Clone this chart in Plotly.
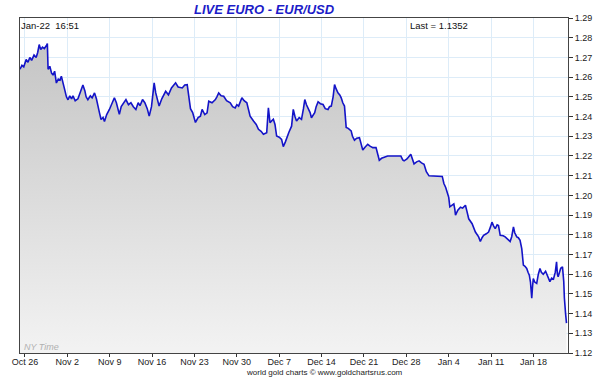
import datetime as dt
import plotly.graph_objects as go

# ---- data ----
start_date = dt.datetime(2020, 10, 26)
days = [
    -0.82, -0.5, -0.2, 0.2, 0.5, 0.8, 1.1, 1.5, 1.85, 2.1, 2.35, 2.6, 2.9, 3.2, 3.55, 3.7,
    3.82, 4.1, 4.4, 4.64, 4.9, 5.19, 5.5, 5.8, 6.01, 6.3, 6.57, 6.85, 7.11, 7.4, 7.7, 7.93,
    8.3, 8.75, 9.1, 9.57, 9.9, 10.1, 10.39, 10.8, 11.1, 11.49, 11.8, 12.03, 12.3, 12.57,
    12.9, 13.13, 13.5, 13.95, 14.3, 14.77, 15.1, 15.3, 15.59, 15.9, 16.3, 16.68, 17.1,
    17.5, 17.9, 18.32, 18.7, 19.0, 19.42, 19.8, 20.2, 20.52, 20.9, 21.1, 21.34, 21.6,
    21.9, 22.16, 22.6, 23.24, 23.7, 24.2, 24.88, 25.3, 25.98, 26.4, 26.8, 27.0, 27.34,
    27.7, 28.16, 28.6, 28.98, 29.26, 29.7, 30.08, 30.36, 30.9, 31.45, 31.7, 32.0, 32.4,
    32.83, 33.3, 33.91, 34.3, 34.73, 35.0, 35.29, 35.83, 36.2, 36.65, 37.0, 37.19, 37.75,
    38.2, 38.57, 39.0, 39.39, 39.93, 40.21, 40.35, 40.47, 41.03, 41.3, 41.57, 42.0, 42.39,
    42.67, 43.0, 43.22, 43.6, 44.04, 44.32, 44.6, 44.86, 45.3, 45.68, 46.0, 46.22, 46.5,
    46.78, 47.1, 47.32, 47.6, 47.86, 48.1, 48.42, 48.8, 49.24, 49.6, 50.06, 50.3, 50.6,
    50.9, 51.14, 51.4, 51.7, 52.0, 52.24, 52.5, 52.78, 53.06, 53.4, 53.88, 54.1, 54.43,
    54.8, 55.25, 55.5, 55.8, 56.2, 56.62, 57.0, 57.45, 57.99, 58.3, 58.53, 58.9, 59.35,
    59.91, 62.09, 62.4, 62.63, 63.1, 63.73, 64.0, 64.27, 64.7, 65.1, 65.5, 65.92, 66.3,
    66.74, 68.93, 69.2, 69.5, 69.75, 70.0, 70.18, 70.5, 70.84, 71.0, 71.12, 71.5, 71.94,
    72.3, 72.76, 73.0, 73.3, 73.86, 74.1, 74.4, 74.94, 75.22, 75.5, 75.76, 76.2, 76.58,
    76.9, 77.14, 77.4, 77.68, 78.0, 78.22, 78.5, 79.0, 79.32, 79.7, 80.14, 80.4, 80.69,
    80.9, 81.24, 81.5, 81.78, 82.06, 82.2, 82.33, 82.6, 82.88, 83.1, 83.31, 83.5, 83.71,
    83.85, 83.97, 84.2, 84.53, 84.8, 85.07, 85.3, 85.61, 86.0, 86.3, 86.71, 87.0, 87.3,
    87.6, 87.81, 87.95, 88.07, 88.3, 88.5, 88.79, 88.9, 89.0, 89.1, 89.17, 89.3, 89.45,
]
rate = [
    1.2640, 1.2660, 1.2652, 1.2690, 1.2675, 1.2700, 1.2685, 1.2712, 1.2700, 1.2725, 1.2765, 1.2740, 1.2752, 1.2745, 1.2760, 1.2770,
    1.2640, 1.2655, 1.2620, 1.2610, 1.2630, 1.2570, 1.2590, 1.2585, 1.2605, 1.2560, 1.2535, 1.2500, 1.2485, 1.2505, 1.2490, 1.2505,
    1.2480, 1.2490, 1.2520, 1.2560, 1.2530, 1.2500, 1.2485, 1.2505, 1.2495, 1.2520, 1.2490, 1.2450, 1.2420, 1.2385,
    1.2395, 1.2375, 1.2410, 1.2436, 1.2465, 1.2495, 1.2470, 1.2440, 1.2411, 1.2450, 1.2470, 1.2486, 1.2460,
    1.2470, 1.2450, 1.2436, 1.2470, 1.2455, 1.2486, 1.2470, 1.2440, 1.2402, 1.2450, 1.2520, 1.2571, 1.2520,
    1.2480, 1.2453, 1.2490, 1.2528, 1.2510, 1.2545, 1.2571, 1.2550, 1.2545, 1.2560, 1.2562, 1.2520, 1.2440,
    1.2420, 1.2370, 1.2395, 1.2402, 1.2436, 1.2410, 1.2419, 1.2478, 1.2470, 1.2486, 1.2500, 1.2520, 1.2505,
    1.2503, 1.2480, 1.2470, 1.2450, 1.2444, 1.2460, 1.2453, 1.2495, 1.2480, 1.2470, 1.2430, 1.2402, 1.2377,
    1.2360, 1.2335, 1.2325, 1.2310, 1.2318, 1.2444, 1.2400, 1.2369, 1.2386, 1.2360, 1.2301, 1.2295, 1.2284,
    1.2247, 1.2270, 1.2293, 1.2320, 1.2351, 1.2436, 1.2400, 1.2377, 1.2395, 1.2386, 1.2440, 1.2486, 1.2460,
    1.2444, 1.2420, 1.2394, 1.2405, 1.2419, 1.2450, 1.2475, 1.2465, 1.2461, 1.2440, 1.2436, 1.2450, 1.2453,
    1.2500, 1.2562, 1.2540, 1.2520, 1.2510, 1.2495, 1.2470, 1.2453, 1.2345, 1.2340, 1.2327, 1.2300, 1.2280,
    1.2290, 1.2293, 1.2260, 1.2230, 1.2245, 1.2259, 1.2250, 1.2242, 1.2242, 1.2200, 1.2178, 1.2188, 1.2192,
    1.2200, 1.2200, 1.2180, 1.2175, 1.2185, 1.2209, 1.2185, 1.2160, 1.2170, 1.2175, 1.2165, 1.2158, 1.2120,
    1.2099, 1.2096, 1.2060, 1.2040, 1.2016, 1.1990, 1.1942, 1.1950, 1.1957, 1.1930, 1.1900, 1.1925, 1.1940,
    1.1935, 1.1950, 1.1920, 1.1881, 1.1856, 1.1840, 1.1814, 1.1789, 1.1766, 1.1785, 1.1797, 1.1805, 1.1814,
    1.1840, 1.1864, 1.1845, 1.1831, 1.1850, 1.1847, 1.1797, 1.1795, 1.1789, 1.1780, 1.1766, 1.1790, 1.1840,
    1.1810, 1.1789, 1.1785, 1.1772, 1.1730, 1.1680, 1.1646, 1.1640, 1.1629, 1.1610, 1.1595, 1.1560, 1.1478,
    1.1540, 1.1578, 1.1560, 1.1553, 1.1600, 1.1629, 1.1610, 1.1600, 1.1615, 1.1590, 1.1562, 1.1580, 1.1575,
    1.1610, 1.1663, 1.1600, 1.1587, 1.1610, 1.1630, 1.1637, 1.1600, 1.1562, 1.1480, 1.1427, 1.1400, 1.1352,
]
tick_dates = ["2020-10-26", "2020-11-02", "2020-11-09", "2020-11-16", "2020-11-23", "2020-11-30",
              "2020-12-07", "2020-12-14", "2020-12-21", "2020-12-28", "2021-01-04", "2021-01-11",
              "2021-01-18"]
tick_labels = ["Oct 26", "Nov 2", "Nov 9", "Nov 16", "Nov 23", "Nov 30", "Dec 7", "Dec 14",
               "Dec 21", "Dec 28", "Jan 4", "Jan 11", "Jan 18"]
y_ticks = [round(1.12 + 0.01 * i, 2) for i in range(18)]
title_text = "LIVE EURO - EUR/USD"
stamp_text = "Jan-22  16:51"
last_text = "Last = 1.1352"
footer_text = "world gold charts \u00a9 www.goldchartsrus.com"

x = [start_date + dt.timedelta(days=d) for d in days]

FONT = "Liberation Sans, Arial, sans-serif"
PW = 551  # plot width in px (17..568)

fig = go.Figure()
fig.add_trace(go.Scatter(
    x=x, y=rate, mode="lines",
    line=dict(color="#1414c8", width=1.6),
    fill="tozeroy",
    fillgradient=dict(type="vertical",
                      colorscale=[[0, "#f3f3f3"], [1, "#c4c4c4"]],
                      start=1.12, stop=1.28),
    hoverinfo="skip",
))

fig.update_layout(
    width=607, height=379,
    margin=dict(l=17, r=39, t=18, b=24),
    paper_bgcolor="white", plot_bgcolor="white",
    showlegend=False,
    font=dict(family=FONT, size=9, color="#222"),
    xaxis=dict(
        type="date",
        range=[start_date + dt.timedelta(days=-0.82), start_date + dt.timedelta(days=89.7)],
        tickvals=tick_dates, ticktext=tick_labels,
        ticks="outside", ticklen=3, tickcolor="#333",
        ticklabelstandoff=-3,
        showgrid=True, gridcolor="#ddecf8", gridwidth=1,
        showline=True, mirror=True, linecolor="#444", linewidth=1,
        zeroline=False,
        tickfont=dict(family=FONT, size=9, color="#222"),
    ),
    yaxis=dict(
        side="right",
        range=[1.12, 1.29],
        tickvals=y_ticks, tickformat=".2f",
        ticks="outside", ticklen=4, tickcolor="#333",
        showgrid=True, gridcolor="#ddecf8", gridwidth=1,
        showline=True, mirror=True, linecolor="#444", linewidth=1,
        zeroline=False,
        tickfont=dict(family=FONT, size=9, color="#222"),
    ),
    annotations=[
        dict(text="<b><i>" + title_text + "</i></b>", xref="paper", yref="paper",
             x=(263 - 17) / PW, y=1, yanchor="middle", xanchor="center", yshift=9,
             showarrow=False, font=dict(family=FONT, size=13, color="#1c1cc8")),
        dict(text=stamp_text, xref="paper", yref="paper", x=0, y=1, xanchor="left",
             yanchor="top", xshift=-1, yshift=0, showarrow=False,
             font=dict(family=FONT, size=9.5, color="#111")),
        dict(text=last_text, xref="paper", yref="paper", x=(469 - 17) / PW, y=1,
             xanchor="right", yanchor="top", yshift=0, showarrow=False,
             font=dict(family=FONT, size=9.5, color="#111")),
        dict(text="<i>NY Time</i>", xref="paper", yref="paper", x=0, y=0, xanchor="left",
             yanchor="bottom", xshift=2, yshift=-1, showarrow=False,
             font=dict(family=FONT, size=9, color="#b0b0b0")),
        dict(text=footer_text, xref="paper", yref="paper",
             x=(323 - 17) / PW, y=0, xanchor="center", yanchor="bottom", yshift=-25,
             showarrow=False, borderpad=0,
             font=dict(family=FONT, size=8, color="#222")),
    ],
)

fig.write_html("out.html")
